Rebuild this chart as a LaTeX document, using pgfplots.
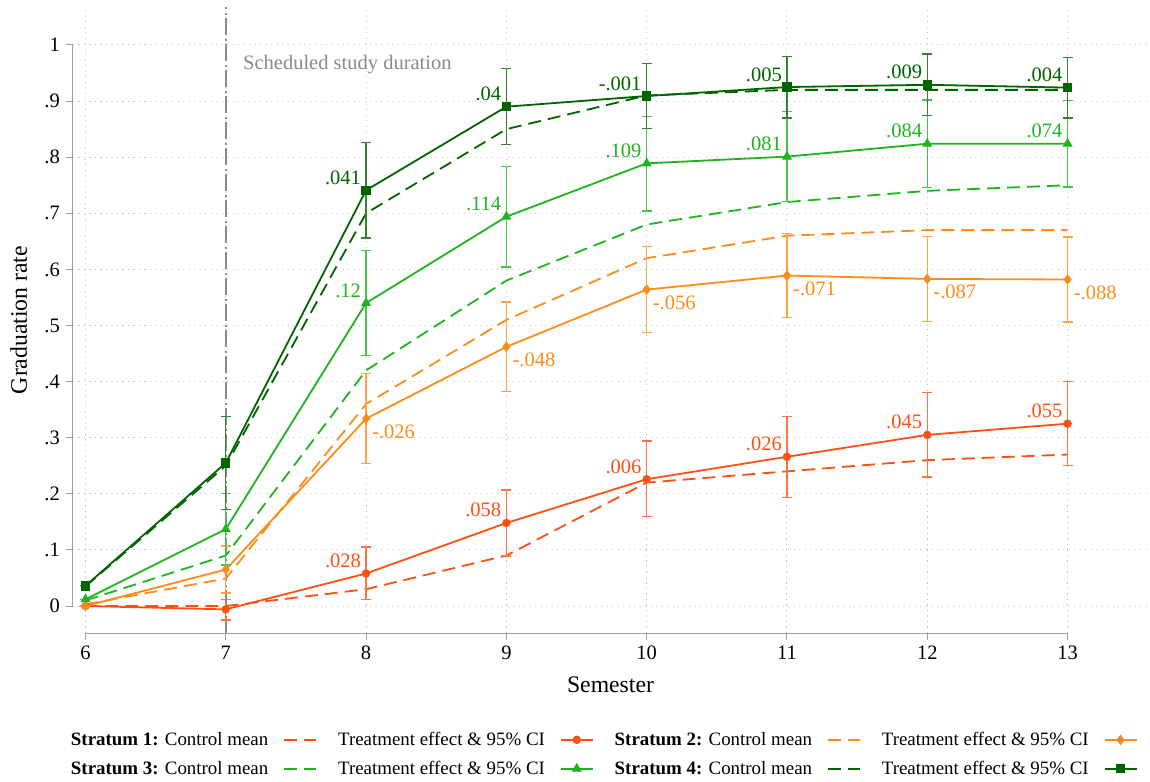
\documentclass[border=0pt]{standalone}
\usepackage{pgfplots}
\usepackage{pgfplotstable}
\pgfplotsset{compat=1.18}
\usepackage{fontspec}
\setmainfont{Liberation Serif}
\newcommand\fA{\fontsize{20.5}{24}\selectfont}
\newcommand\fB{\fontsize{23.7}{28}\selectfont}
\newcommand\fL{\fontsize{18.9}{22}\selectfont}
\definecolor{colA}{RGB}{255,80,20}
\definecolor{colB}{RGB}{255,140,26}
\definecolor{colC}{RGB}{30,180,30}
\definecolor{colD}{RGB}{0,100,0}
\definecolor{axgray}{RGB}{160,160,160}
\definecolor{refgray}{RGB}{138,138,138}
\definecolor{gridgray}{RGB}{195,195,195}

% x: semester, c: control mean, y: control + treatment effect, ep/em: CI, lab: effect label
\pgfplotstableread{
x c y ep em lab
6 0.000 0.000 0.000 0.000 x
7 0.000 -0.006 0.018 0.019 x
8 0.030 0.058 0.047 0.047 .028
9 0.090 0.148 0.059 0.059 .058
10 0.220 0.226 0.068 0.067 .006
11 0.240 0.266 0.072 0.072 .026
12 0.260 0.305 0.075 0.075 .045
13 0.270 0.325 0.075 0.075 .055
}\sone
\pgfplotstableread{
x c y ep em lab
6 0.003 0.000 0.000 0.000 x
7 0.049 0.065 0.042 0.042 x
8 0.360 0.334 0.080 0.080 -.026
9 0.510 0.462 0.080 0.080 -.048
10 0.620 0.564 0.077 0.077 -.056
11 0.660 0.589 0.075 0.075 -.071
12 0.670 0.583 0.076 0.076 -.087
13 0.670 0.582 0.076 0.076 -.088
}\stwo
\pgfplotstableread{
x c y ep em lab
6 0.010 0.012 0.000 0.000 x
7 0.090 0.137 0.064 0.064 x
8 0.420 0.540 0.094 0.094 .12
9 0.580 0.694 0.090 0.090 .114
10 0.680 0.789 0.083 0.085 .109
11 0.720 0.801 0.080 0.080 .081
12 0.740 0.824 0.078 0.078 .084
13 0.750 0.824 0.077 0.077 .074
}\sthree
\pgfplotstableread{
x c y ep em lab
6 0.035 0.036 0.000 0.000 x
7 0.250 0.255 0.083 0.083 x
8 0.700 0.741 0.085 0.085 .041
9 0.850 0.890 0.068 0.068 .04
10 0.910 0.909 0.058 0.058 -.001
11 0.920 0.925 0.055 0.055 .005
12 0.920 0.929 0.055 0.055 .009
13 0.920 0.924 0.054 0.054 .004
}\sfour

\pgfplotsset{
  ctrl/.style={color=#1, draw=#1, line width=1.8pt, dash pattern=on 13pt off 7pt, no marks},
  treat/.style={color=#1, draw=#1, solid, line width=1.8pt, mark options={solid, fill=#1, draw=#1, line width=1pt},
    error bars/y dir=both, error bars/y explicit,
    error bars/error bar style={line width=1.3pt, draw=#1!80!white, solid},
    error bars/error mark options={rotate=90, line width=1.3pt, mark size=5pt, draw=#1!80!white, solid}},
  labUL/.style={forget plot, draw=none, no marks, nodes near coords,
    point meta=explicit symbolic, skip coords between index={0}{2},
    every node near coord/.append style={anchor=base east, xshift=-5pt, yshift=6pt,
      inner sep=0pt, font=\fA, text=#1}},
  labDR/.style={forget plot, draw=none, no marks, nodes near coords,
    point meta=explicit symbolic, skip coords between index={0}{2},
    every node near coord/.append style={anchor=base west, xshift=6pt, yshift=-20pt,
      inner sep=0pt, font=\fA, text=#1}},
}

\begin{document}
\begin{tikzpicture}
\begin{axis}[
  at={(0,0)}, anchor=south west,
  scale only axis, width=1075pt, height=626pt,
  xmin=5.911, xmax=13.573, ymin=-0.0481, ymax=1.0677,
  clip=false,
  axis line style={draw=none},
  xtick={6,7,8,9,10,11,12,13},
  xticklabels={6,7,8,9,10,11,12,13},
  ytick={0,0.1,0.2,0.3,0.4,0.5,0.6,0.7,0.8,0.9,1},
  yticklabels={0,.1,.2,.3,.4,.5,.6,.7,.8,.9,1},
  xtick pos=left, ytick pos=left,
  tick align=outside,
  major tick length=7pt,
  tick style={axgray, line width=1pt},
  xticklabel style={font=\fA, inner sep=0pt, anchor=base, yshift=-19pt},
  yticklabel style={font=\fA, inner sep=0pt, anchor=east, xshift=-6pt},
  grid=major,
  major grid style={gridgray, line width=1pt, dash pattern=on 1.2pt off 4.3pt},
  xlabel={Semester},
  ylabel={Graduation rate},
  xlabel style={font=\fB, at={(axis description cs:0.5,-0.0958)}, anchor=base, inner sep=0pt},
  ylabel style={font=\fB, at={(axis description cs:-0.0428,0.5)}, anchor=base, inner sep=0pt},
  legend columns=4,
  legend plot pos=right,
  legend cell align=left,
  legend image code/.code={\draw[mark repeat=2,mark phase=2,#1] plot coordinates {(0pt,0pt) (16pt,0pt) (32pt,0pt)};},
  legend style={at={(axis description cs:-0.0019,-0.1588)}, anchor=north west,
    draw=none, fill=none, inner sep=0pt, outer sep=0pt, font=\fL,
    column sep=15pt, row sep=14pt,
    /tikz/every even column/.append style={column sep=21pt},
    nodes={inner sep=0pt}},
]
\addplot[forget plot, refgray, line width=1.5pt, dash pattern=on 17pt off 3pt on 2pt off 4pt]
  coordinates {(7,-0.0481) (7,1.0677)};

\addplot[ctrl=colA] table[x=x, y=c] {\sone};
\addlegendentry{\textbf{Stratum 1:} Control mean}
\addplot[mark=*, mark size=3.7pt, treat=colA] table[x=x, y=y, y error plus=ep, y error minus=em] {\sone};
\addlegendentry{Treatment effect \& 95\% CI}
\addplot[ctrl=colB] table[x=x, y=c] {\stwo};
\addlegendentry{\textbf{Stratum 2:} Control mean}
\addplot[mark=diamond*, mark size=4.6pt, treat=colB] table[x=x, y=y, y error plus=ep, y error minus=em] {\stwo};
\addlegendentry{Treatment effect \& 95\% CI}
\addplot[ctrl=colC] table[x=x, y=c] {\sthree};
\addlegendentry{\textbf{Stratum 3:} Control mean}
\addplot[mark=triangle*, mark size=4.8pt, treat=colC] table[x=x, y=y, y error plus=ep, y error minus=em] {\sthree};
\addlegendentry{Treatment effect \& 95\% CI}
\addplot[ctrl=colD] table[x=x, y=c] {\sfour};
\addlegendentry{\textbf{Stratum 4:} Control mean}
\addplot[mark=square*, mark size=4.2pt, treat=colD] table[x=x, y=y, y error plus=ep, y error minus=em] {\sfour};
\addlegendentry{Treatment effect \& 95\% CI}

\addplot[labUL=colA] table[x=x, y=y, meta=lab] {\sone};
\addplot[labDR=colB] table[x=x, y=y, meta=lab] {\stwo};
\addplot[labUL=colC] table[x=x, y=y, meta=lab] {\sthree};
\addplot[labUL=colD] table[x=x, y=y, meta=lab] {\sfour};

\draw[axgray, line width=1pt] (axis cs:5.911,0) -- (axis cs:5.911,1);
\draw[axgray, line width=1pt] (axis cs:6,-0.0481) -- (axis cs:13,-0.0481);
\node[anchor=base west, inner sep=0pt, text=refgray, font=\fA] at (axis cs:7.1226,0.9554) {Scheduled study duration};
\end{axis}
\pgfresetboundingbox
\path (-73pt,-148pt) rectangle (1077pt,633pt);
\end{tikzpicture}
\end{document}
